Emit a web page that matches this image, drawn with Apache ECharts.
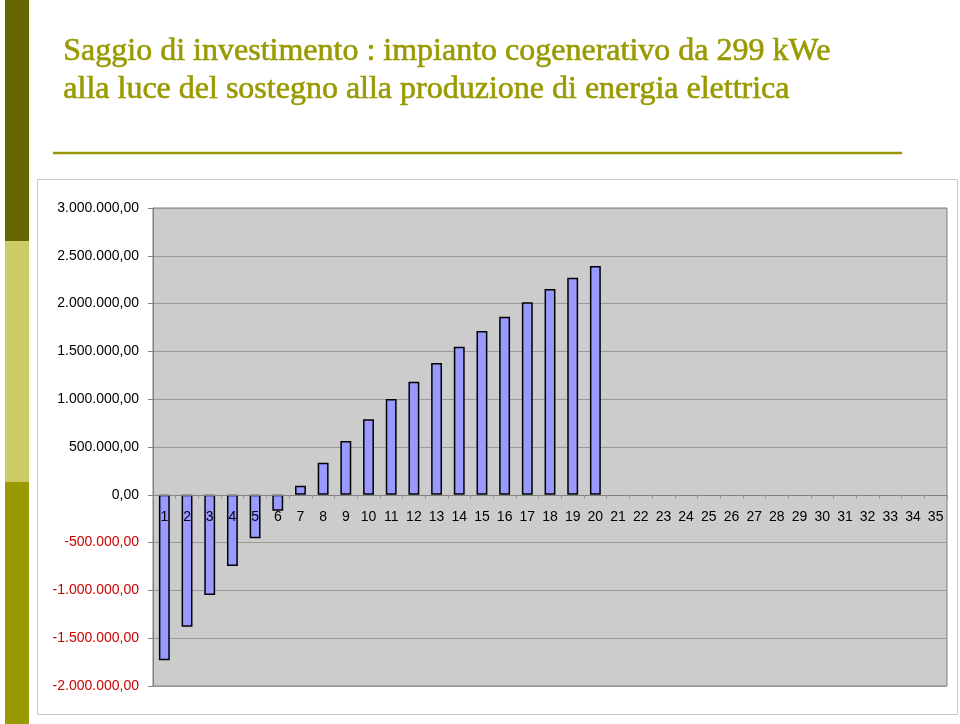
<!DOCTYPE html>
<html>
<head>
<meta charset="utf-8">
<script src="https://cdn.jsdelivr.net/npm/echarts@6/dist/echarts.min.js"></script>
<style>
html,body{margin:0;padding:0;background:#fff;}
#chart{width:960px;height:724px;}
</style>
</head>
<body>
<div id="chart"></div>
<script>
var titleLines = ['Saggio di investimento : impianto cogenerativo da 299 kWe',
                  'alla luce del sostegno alla produzione di energia elettrica'];
var categories = ['1','2','3','4','5','6','7','8','9','10','11','12','13','14','15','16','17','18',
                  '19','20','21','22','23','24','25','26','27','28','29','30','31','32','33','34','35'];
var values = [-1731000, -1381000, -1049000, -745000, -455000, -168000, 94000, 335000, 562000,
              789000, 1001000, 1183000, 1378000, 1549000, 1713000, 1863000, 2013000, 2153000,
              2271000, 2394000, null, null, null, null, null, null, null, null, null, null,
              null, null, null, null, null];
var yMin = -2000000, yMax = 3000000, yStep = 500000;

function fmtIt(v) {
  var neg = v < 0;
  var s = Math.abs(Math.round(v)).toString();
  s = s.replace(/\B(?=(\d{3})+(?!\d))/g, '.');
  return (neg ? '-' : '') + s + ',00';
}

var gridTop = 208, gridBottom = 38, H = 724;
var plotH = H - gridTop - gridBottom;
var zeroOffset = plotH * (0 - yMin) / (yMax - yMin);

var titleFont = '32px "Liberation Serif", serif';

var chart = echarts.init(document.getElementById('chart'), null, {renderer: 'canvas'});
chart.setOption({
  animation: false,
  backgroundColor: '#ffffff',
  graphic: [
    {type: 'rect', z: -10, shape: {x: 5, y: 0, width: 24, height: 241}, style: {fill: '#666600'}},
    {type: 'rect', z: -10, shape: {x: 5, y: 241, width: 24, height: 241}, style: {fill: '#CCCC66'}},
    {type: 'rect', z: -10, shape: {x: 5, y: 482, width: 24, height: 242}, style: {fill: '#999900'}},
    {type: 'line', z: -10, shape: {x1: 53, y1: 153, x2: 902, y2: 153}, style: {stroke: '#999900', lineWidth: 2.5}},
    {type: 'rect', z: -10, shape: {x: 37.5, y: 179.5, width: 920, height: 535}, style: {fill: '#ffffff', stroke: '#c8c8c8', lineWidth: 1}},
    {type: 'text', left: 63, top: 35, style: {text: titleLines[0], fill: '#999900', stroke: '#999900', lineWidth: 0.6, font: titleFont}},
    {type: 'text', left: 63, top: 73, style: {text: titleLines[1], fill: '#999900', stroke: '#999900', lineWidth: 0.6, font: titleFont}}
  ],
  grid: {
    left: 153, right: 13, top: gridTop, bottom: gridBottom,
    show: true, backgroundColor: '#CCCCCC', borderColor: '#808080', borderWidth: 1
  },
  xAxis: {
    type: 'category',
    data: categories,
    z: 5,
    offset: -zeroOffset,
    axisLine: {onZero: false, lineStyle: {color: '#808080', width: 1}},
    axisTick: {show: true, length: 4, inside: false, lineStyle: {color: '#999999'}},
    axisLabel: {color: '#000', fontSize: 14, fontFamily: '"Liberation Sans", Arial, sans-serif', margin: 15, interval: 0},
    splitLine: {show: false}
  },
  yAxis: {
    type: 'value',
    min: yMin, max: yMax, interval: yStep,
    axisLine: {show: true, lineStyle: {color: '#808080'}},
    axisTick: {show: true, length: 5, lineStyle: {color: '#808080'}},
    axisLabel: {
      fontSize: 14, fontFamily: '"Liberation Sans", Arial, sans-serif', margin: 14,
      formatter: fmtIt,
      color: function (v) { return Number(v) < 0 ? '#CC0000' : '#000000'; }
    },
    splitLine: {show: true, lineStyle: {color: '#999999', width: 1}}
  },
  series: [{
    type: 'bar',
    data: values,
    barWidth: '48%',
    itemStyle: {color: '#9999FF', borderColor: '#000000', borderWidth: 1.5}
  }]
});
</script>
</body>
</html>
